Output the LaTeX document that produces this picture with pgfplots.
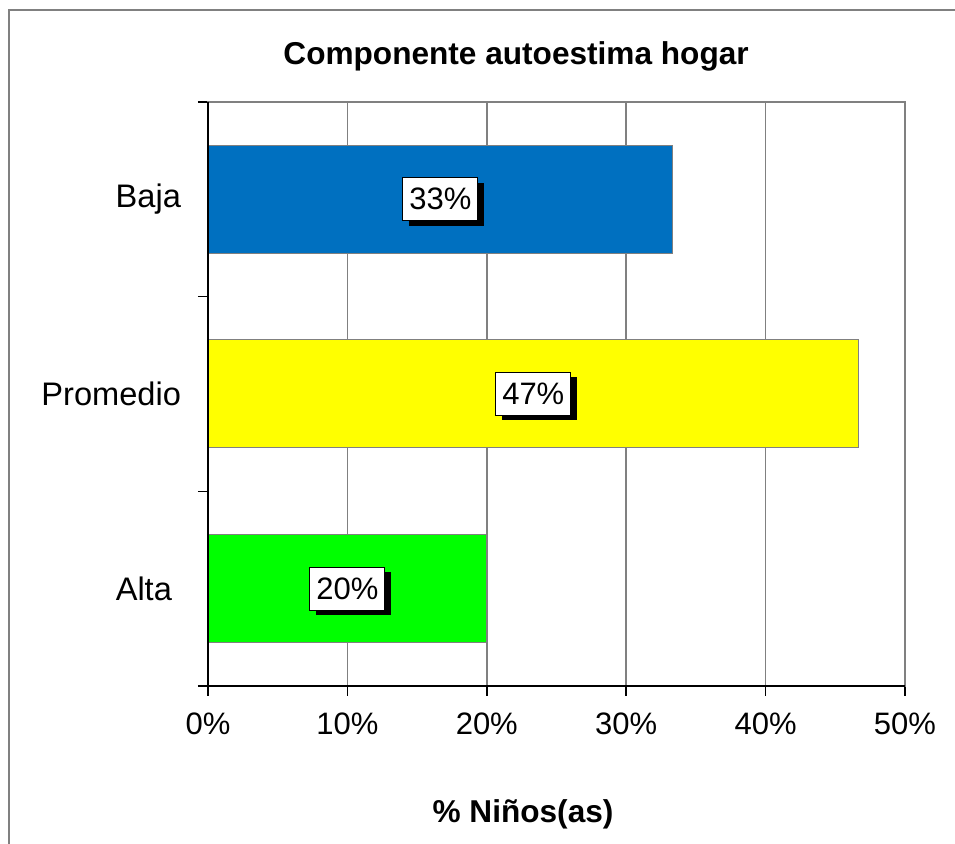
\documentclass[border=0pt]{standalone}
\usepackage{pgfplots}
\pgfplotsset{compat=1.18}
\usepackage{pgfplotstable}
\usepackage{fontspec}
\setmainfont{Liberation Sans}
\usetikzlibrary{shadows}
\definecolor{cblue}{RGB}{0,112,192}
\definecolor{cyellow}{RGB}{255,255,0}
\definecolor{cgreen}{RGB}{0,255,0}
\definecolor{cgrid}{RGB}{128,128,128}

\pgfplotstableread{
y v
2 33.33
1 46.67
0 20.00
}\datatable

\begin{document}
\begin{tikzpicture}
\path[use as bounding box] (0pt,0pt) rectangle (477.5pt,422pt);
\draw[cgrid, line width=0.6pt] (4.5pt,-10pt) -- (4.5pt,417pt) -- (490pt,417pt);
\begin{axis}[
  at={(104pt,79pt)}, anchor=south west,
  scale only axis, width=348.5pt, height=292pt,
  xmin=0, xmax=50, ymin=-0.5, ymax=2.5,
  xtick={0,10,...,50},
  xticklabel={\pgfmathprintnumber{\tick}\%},
  ytick={-0.5,0.5,1.5,2.5},
  yticklabels={},
  extra y ticks={0,1,2},
  extra y tick labels={\hbox{Alta\kern4.5pt},Promedio,Baja},
  extra y tick style={grid=none, tick style={draw=none}},
  xtick pos=bottom, ytick pos=left,
  tick align=outside,
  major tick length=5pt,
  tick style={black, line width=0.75pt},
  xmajorgrids=true, ymajorgrids=false,
  grid style={cgrid, line width=0.75pt},
  axis line style={draw=cgrid, line width=0.75pt},
  /pgf/number format/assume math mode=true,
  tick label style={font=\fontsize{15.5}{18}\selectfont, text=black},
  xticklabel style={yshift=-5pt},
  yticklabel style={anchor=east, xshift=-5pt, font=\fontsize{16.3}{19}\selectfont},
  title={Componente autoestima hogar},
  title style={font=\fontsize{15.8}{19}\selectfont\bfseries, at={(axis description cs:0.442,1.068)}, anchor=base, yshift=-7pt},
  xlabel={\% Niños(as)},
  xlabel style={font=\fontsize{15.8}{19}\selectfont\bfseries, at={(axis description cs:0.452,-0.233)}, anchor=base},
  after end axis/.code={
    \draw[black, line width=0.9pt] (rel axis cs:0,1) -- (rel axis cs:0,0) -- (rel axis cs:1,0);
  },
]
\addplot[xbar, bar width=54pt, bar shift=0pt, fill=cblue, draw=cgrid, line width=0.5pt]
  table[x=v, y=y, restrict expr to domain={\coordindex}{0:0}] \datatable;
\addplot[xbar, bar width=54pt, bar shift=0pt, fill=cyellow, draw=cgrid, line width=0.5pt]
  table[x=v, y=y, restrict expr to domain={\coordindex}{1:1}] \datatable;
\addplot[xbar, bar width=54pt, bar shift=0pt, fill=cgreen, draw=cgrid, line width=0.5pt]
  table[x=v, y=y, restrict expr to domain={\coordindex}{2:2}] \datatable;
\addplot[draw=none, mark=none,
  point meta={\thisrow{v}},
  nodes near coords={\pgfmathprintnumber[fixed,precision=0]{\pgfplotspointmeta}\%},
  every node near coord/.style={anchor=center, draw=black, line width=0.5pt, fill=white, text=black,
    font=\fontsize{15.5}{18}\selectfont, inner sep=0pt, minimum width=37.5pt, minimum height=21.5pt,
    drop shadow={shadow xshift=3pt, shadow yshift=-2.5pt, fill=black, opacity=1}},
] table[x expr=\thisrow{v}/2, y=y] \datatable;
\end{axis}
\end{tikzpicture}
\end{document}
